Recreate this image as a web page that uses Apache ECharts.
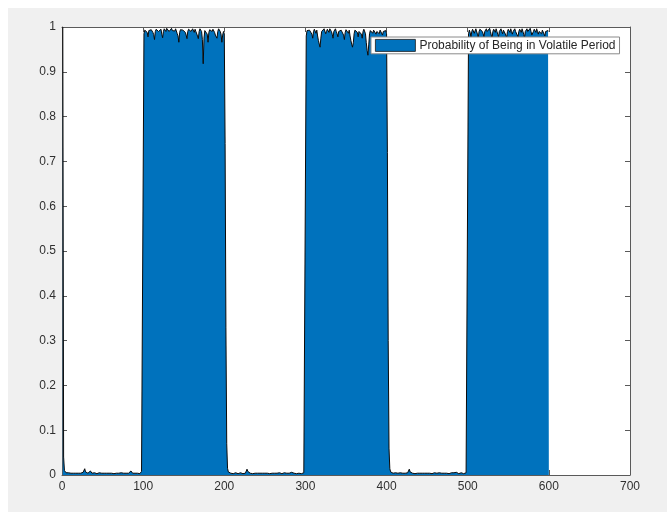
<!DOCTYPE html>
<html><head><meta charset="utf-8">
<script src="https://cdn.jsdelivr.net/npm/echarts@6/dist/echarts.min.js"></script>
<style>html,body{margin:0;padding:0;background:#fff;}#c{width:667px;height:512px;}</style>
</head><body><div id="c"></div>
<script>
const seriesName = "Probability of Being in Volatile Period";
const xTicks = [0,100,200,300,400,500,600,700];
const yTicks = [0,0.1,0.2,0.3,0.4,0.5,0.6,0.7,0.8,0.9,1];
// x = 1..100
const low1 = [1.0,0.04,0.01,0.006,0.005,0.004,0.004,0.005,0.004,0.003,
0.004,0.004,0.005,0.004,0.003,0.004,0.004,0.004,0.005,0.004,
0.004,0.003,0.004,0.004,0.005,0.006,0.008,0.014,0.007,0.005,
0.004,0.004,0.005,0.004,0.009,0.005,0.004,0.004,0.004,0.005,
0.004,0.004,0.003,0.004,0.004,0.005,0.004,0.004,0.004,0.003,
0.004,0.004,0.005,0.004,0.004,0.004,0.003,0.004,0.004,0.005,
0.004,0.004,0.004,0.003,0.004,0.005,0.004,0.004,0.004,0.004,
0.003,0.004,0.005,0.004,0.004,0.004,0.004,0.003,0.004,0.005,
0.004,0.004,0.005,0.006,0.009,0.006,0.004,0.004,0.003,0.004,
0.004,0.005,0.004,0.004,0.004,0.003,0.006,0.008,0.005,0.006];
// x = 101..200
const high1 = [0.985,0.993,0.996,0.99,0.988,0.978,0.992,0.995,0.99,0.994,
0.996,0.988,0.983,0.972,0.99,0.995,0.993,0.997,0.99,0.986,
0.992,0.995,0.984,0.976,0.99,0.996,0.994,0.99,0.997,0.993,
0.995,0.99,0.986,0.993,0.997,0.992,0.995,0.988,0.991,0.996,
0.993,0.985,0.98,0.966,0.988,0.994,0.996,0.99,0.993,0.997,
0.991,0.988,0.982,0.974,0.99,0.995,0.993,0.997,0.99,0.994,
0.996,0.992,0.988,0.995,0.99,0.986,0.98,0.974,0.99,0.996,
0.993,0.99,0.972,0.918,0.975,0.992,0.996,0.99,0.984,0.966,
0.988,0.994,0.997,0.992,0.99,0.995,0.993,0.988,0.982,0.985,
0.975,0.99,0.996,0.993,0.99,0.984,0.966,0.982,0.99,0.985];
// x = 201..300
const low2 = [0.74,0.33,0.07,0.015,0.007,0.005,0.004,0.004,0.005,0.004,
0.003,0.004,0.004,0.005,0.004,0.004,0.003,0.004,0.004,0.005,
0.004,0.004,0.003,0.004,0.005,0.004,0.007,0.013,0.008,0.005,
0.004,0.004,0.004,0.005,0.003,0.004,0.004,0.004,0.005,0.004,
0.004,0.003,0.004,0.004,0.005,0.004,0.004,0.004,0.003,0.004,
0.005,0.004,0.004,0.004,0.004,0.003,0.004,0.005,0.004,0.004,
0.004,0.004,0.005,0.003,0.004,0.004,0.004,0.005,0.004,0.004,
0.003,0.004,0.004,0.005,0.004,0.004,0.004,0.003,0.004,0.004,
0.005,0.004,0.006,0.008,0.006,0.004,0.004,0.004,0.003,0.004,
0.005,0.004,0.004,0.004,0.003,0.005,0.007,0.005,0.004,0.006];
// x = 301..400
const high2 = [0.98,0.992,0.995,0.988,0.993,0.996,0.99,0.984,0.975,0.99,
0.995,0.992,0.986,0.993,0.98,0.97,0.962,0.955,0.975,0.99,
0.994,0.99,0.996,0.993,0.985,0.99,0.995,0.992,0.988,0.996,
0.993,0.99,0.984,0.975,0.99,0.994,0.996,0.99,0.985,0.978,
0.99,0.994,0.988,0.993,0.996,0.99,0.982,0.972,0.988,0.994,
0.996,0.99,0.986,0.993,0.98,0.97,0.962,0.955,0.965,0.985,
0.993,0.99,0.996,0.988,0.978,0.99,0.994,0.99,0.984,0.975,
0.99,0.995,0.993,0.985,0.965,0.948,0.937,0.96,0.985,0.992,
0.995,0.99,0.986,0.993,0.996,0.99,0.984,0.99,0.994,0.99,
0.985,0.993,0.996,0.99,0.982,0.99,0.994,0.988,0.992,0.985];
// x = 401..500
const low3 = [0.72,0.3,0.06,0.014,0.007,0.005,0.004,0.004,0.003,0.004,
0.005,0.004,0.004,0.004,0.003,0.004,0.005,0.004,0.004,0.004,
0.004,0.003,0.004,0.005,0.004,0.005,0.008,0.013,0.007,0.005,
0.004,0.004,0.005,0.004,0.003,0.004,0.004,0.004,0.005,0.004,
0.004,0.003,0.004,0.004,0.005,0.004,0.004,0.004,0.003,0.004,
0.004,0.005,0.004,0.004,0.004,0.003,0.004,0.004,0.005,0.004,
0.004,0.004,0.003,0.004,0.005,0.004,0.004,0.004,0.004,0.003,
0.004,0.004,0.005,0.004,0.004,0.004,0.003,0.004,0.004,0.005,
0.004,0.004,0.005,0.007,0.009,0.006,0.004,0.004,0.003,0.004,
0.004,0.005,0.004,0.004,0.003,0.004,0.006,0.005,0.004,0.006];
// x = 501..600
const high3 = [0.985,0.993,0.988,0.978,0.99,0.995,0.993,0.986,0.99,0.996,
0.992,0.984,0.976,0.99,0.995,0.993,0.997,0.99,0.985,0.978,
0.99,0.994,0.996,0.99,0.986,0.993,0.997,0.99,0.982,0.975,
0.99,0.995,0.993,0.988,0.996,0.99,0.984,0.978,0.99,0.994,
0.996,0.99,0.985,0.993,0.997,0.99,0.982,0.976,0.99,0.995,
0.993,0.988,0.996,0.99,0.984,0.99,0.994,0.996,0.99,0.986,
0.993,0.978,0.99,0.995,0.993,0.988,0.996,0.99,0.984,0.976,
0.99,0.994,0.996,0.99,0.986,0.993,0.997,0.99,0.982,0.978,
0.99,0.995,0.993,0.988,0.996,0.99,0.984,0.99,0.994,0.99,
0.985,0.993,0.996,0.99,0.98,0.99,0.994,0.988,0.992,0.99];

const values = [].concat(low1, high1, low2, high2, low3, high3);
const data = values.map((v, i) => [i + 1, v]);

const chart = echarts.init(document.getElementById('c'), null, {renderer: 'canvas'});
const axisCol = '#5a5a5a';
const labelCol = '#303030';
const font = 'Liberation Sans, Arial, Helvetica, sans-serif';
chart.setOption({
  backgroundColor: 'transparent',
  animation: false,
  graphic: [{type: 'rect', z: -10, silent: true, shape: {x: 8, y: 8, width: 667, height: 512}, style: {fill: '#f0f0f0'}}],
  grid: {left: 62, right: 37, top: 27, bottom: 37, show: true, backgroundColor: '#ffffff', borderWidth: 0},
  legend: {
    left: 371, top: 37, orient: 'horizontal',
    backgroundColor: '#ffffff', borderColor: '#8a8a8a', borderWidth: 1,
    padding: [2, 4, 2, 4], itemWidth: 40, itemHeight: 12, itemGap: 5,
    textStyle: {fontSize: 12, color: '#262626', fontFamily: font, padding: [0, 0, 0, -1]},
    data: [{name: seriesName, icon: 'rect', itemStyle: {color: '#0072bd', borderColor: '#1a1a1a', borderWidth: 0.8}}]
  },
  xAxis: [{
    type: 'value', min: xTicks[0], max: xTicks[xTicks.length - 1], interval: 100,
    axisLine: {show: true, lineStyle: {color: axisCol, width: 1}},
    axisTick: {show: true, inside: true, length: 5, lineStyle: {color: axisCol}},
    axisLabel: {color: labelCol, fontSize: 12, fontFamily: font, margin: 6},
    splitLine: {show: false}
  }, {
    type: 'value', position: 'top', min: xTicks[0], max: xTicks[xTicks.length - 1], interval: 100,
    axisLine: {show: true, onZero: false, lineStyle: {color: axisCol, width: 1}},
    axisTick: {show: true, inside: true, length: 5, lineStyle: {color: axisCol}},
    axisLabel: {show: false}, splitLine: {show: false}
  }],
  yAxis: [{
    type: 'value', min: yTicks[0], max: yTicks[yTicks.length - 1], interval: 0.1,
    axisLine: {show: true, lineStyle: {color: axisCol, width: 1}},
    axisTick: {show: true, inside: true, length: 5, lineStyle: {color: axisCol}},
    axisLabel: {color: labelCol, fontSize: 12, fontFamily: font, margin: 6,
      formatter: v => String(Math.round(v * 10) / 10)},
    splitLine: {show: false}
  }, {
    type: 'value', position: 'right', min: yTicks[0], max: yTicks[yTicks.length - 1], interval: 0.1,
    axisLine: {show: true, onZero: false, lineStyle: {color: axisCol, width: 1}},
    axisTick: {show: true, inside: true, length: 5, lineStyle: {color: axisCol}},
    axisLabel: {show: false}, splitLine: {show: false}
  }],
  series: [{
    name: seriesName, type: 'line', data: data,
    xAxisIndex: 0, yAxisIndex: 0,
    showSymbol: false, symbol: 'none',
    lineStyle: {color: '#0a0a0a', width: 1},
    itemStyle: {color: '#0072bd'},
    areaStyle: {color: '#0072bd', opacity: 1},
    z: 2
  }]
});
</script></body></html>
